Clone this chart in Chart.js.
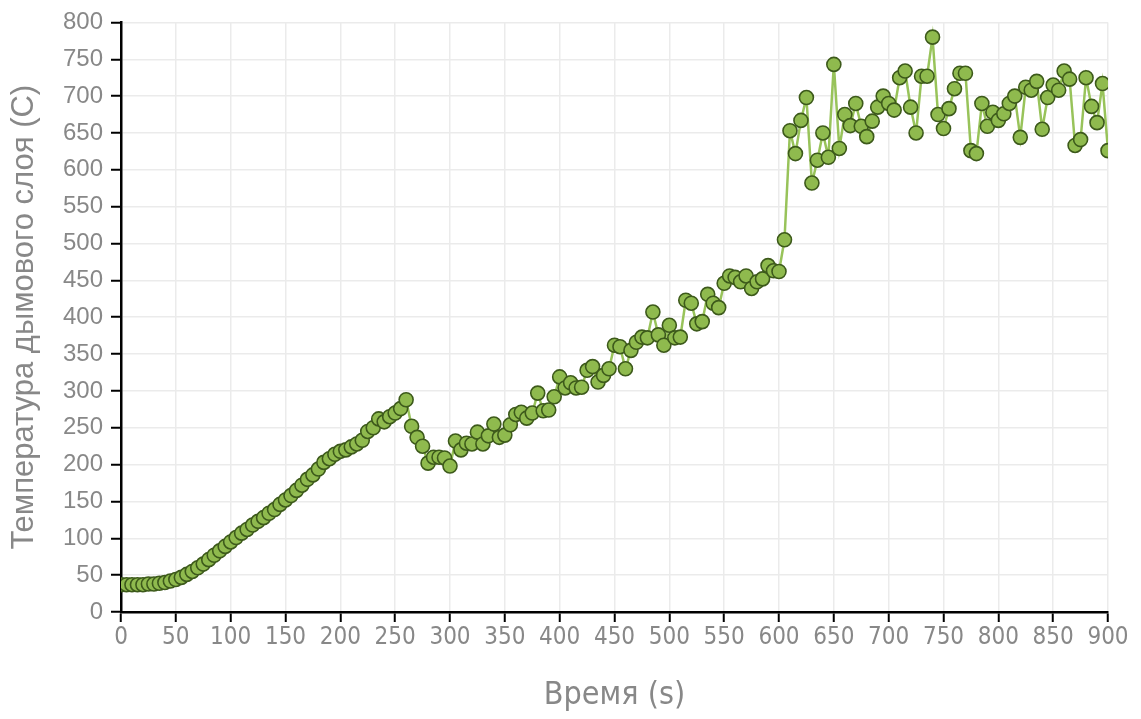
<!DOCTYPE html>
<html>
<head>
<meta charset="utf-8">
<script src="https://cdn.jsdelivr.net/npm/chart.js@4.4.1/dist/chart.umd.min.js"></script>
<style>
  html, body { margin: 0; padding: 0; background: #ffffff; }
  #wrap { width: 1141px; height: 719px; }
</style>
</head>
<body>
<div id="wrap"><canvas id="c" width="1141" height="719"></canvas></div>
<script>
const times = [
  0,5,10,15,20,25,30,35,40,45,
  50,55,60,65,70,75,80,85,90,95,
  100,105,110,115,120,125,130,135,140,145,
  150,155,160,165,170,175,180,185,190,195,
  200,205,210,215,220,225,230,235,240,245,
  250,255,260,265,270,275,280,285,290,295,
  300,305,310,315,320,325,330,335,340,345,
  350,355,360,365,370,375,380,385,390,395,
  400,405,410,415,420,425,430,435,440,445,
  450,455,460,465,470,475,480,485,490,495,
  500,505,510,515,520,525,530,535,540,545,
  550,555,560,565,570,575,580,585,590,595,
  600,605,610,615,620,625,630,635,640,645,
  650,655,660,665,670,675,680,685,690,695,
  700,705,710,715,720,725,730,735,740,745,
  750,755,760,765,770,775,780,785,790,795,
  800,805,810,815,820,825,830,835,840,845,
  850,855,860,865,870,875,880,885,890,895,
  900
];
const temperatures = [
  37,37,37,37,37,38,38,39,40,42,
  44,47,51,55,60,65,71,77,83,89,
  95,101,107,112,118,123,128,134,139,146,
  152,158,165,172,180,186,194,203,208,214,
  218,220,224,228,233,245,250,262,258,265,
  270,276,288,252,237,225,202,210,210,209,
  198,232,220,229,228,244,228,239,255,237,
  240,254,268,271,263,270,297,273,274,292,
  319,304,311,304,305,328,333,312,321,330,
  362,360,330,355,366,373,372,407,376,362,
  389,372,373,423,419,391,394,431,419,413,
  446,456,454,448,456,439,448,452,470,463,
  462,505,653,622,667,698,582,613,650,617,
  743,629,675,660,690,659,645,666,685,700,
  690,681,725,734,685,650,727,727,780,675,
  656,683,710,731,731,626,622,690,659,678,
  667,676,690,700,644,712,708,720,655,698,
  715,708,734,723,633,641,725,686,664,717,
  626
];
const xTicks = [0,50,100,150,200,250,300,350,400,450,500,550,600,650,700,750,800,850,900];
const yTicks = [0,50,100,150,200,250,300,350,400,450,500,550,600,650,700,750,800];
const xTitle = 'Время (s)';
const yTitle = 'Температура дымового слоя (C)';

const points = times.map((t, i) => ({ x: t, y: temperatures[i] }));
const textGrey = '#888888';
const narrow = "'Liberation Sans Narrow', 'DejaVu Sans Condensed', 'Liberation Sans', Arial, sans-serif";
const regular = "'Liberation Sans', Arial, sans-serif";

new Chart(document.getElementById('c'), {
  type: 'line',
  data: {
    datasets: [{
      data: points,
      borderColor: '#98c35a',
      borderWidth: 2.5,
      pointRadius: 7,
      pointHoverRadius: 7,
      pointBorderWidth: 1.6,
      pointBorderColor: '#3d5a1b',
      pointBackgroundColor: '#8fba4e',
      tension: 0,
      fill: false
    }]
  },
  options: {
    responsive: false,
    animation: false,
    events: [],
    layout: { padding: { left: 0, right: 33, top: 22, bottom: 0 } },
    plugins: { legend: { display: false }, tooltip: { enabled: false } },
    scales: {
      x: {
        type: 'linear',
        min: 0, max: 900,
        afterBuildTicks: (s) => { s.ticks = xTicks.map(v => ({ value: v })); },
        afterFit: (s) => { s.height = 107; },
        ticks: { color: textGrey, font: { family: narrow, size: 24 }, padding: 1, maxRotation: 0, autoSkip: false },
        grid: { color: '#ebebeb', lineWidth: 1.5, tickColor: '#000', tickWidth: 2, tickLength: 10 },
        border: { display: true, color: '#000', width: 2.5 },
        title: { display: true, text: xTitle, color: textGrey, font: { family: narrow, size: 32 }, padding: { top: 0, bottom: 4 } }
      },
      y: {
        type: 'linear',
        min: 0, max: 800,
        afterBuildTicks: (s) => { s.ticks = yTicks.map(v => ({ value: v })); },
        afterFit: (s) => { s.width = 121; },
        ticks: { color: textGrey, font: { family: regular, size: 24 }, padding: 8, autoSkip: false },
        grid: { color: '#ebebeb', lineWidth: 1.5, tickColor: '#000', tickWidth: 2, tickLength: 10 },
        border: { display: true, color: '#000', width: 2.5 },
        title: { display: true, text: yTitle, color: textGrey, font: { family: regular, size: 31 }, padding: { top: 6, bottom: 0 } }
      }
    }
  }
});
</script>
</body>
</html>
